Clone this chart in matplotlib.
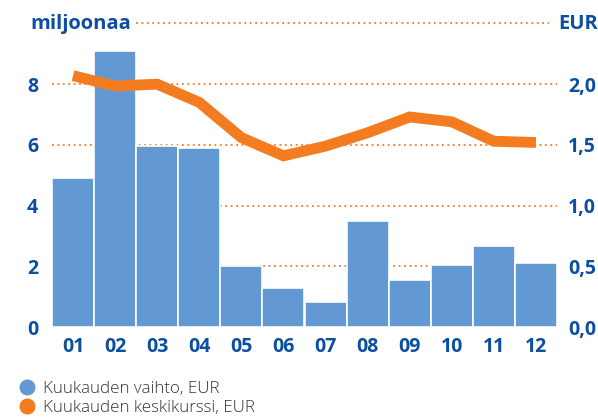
import matplotlib
matplotlib.use("Agg")
import matplotlib.pyplot as plt
from matplotlib.lines import Line2D

months = ["01", "02", "03", "04", "05", "06", "07", "08", "09", "10", "11", "12"]
volume = [4.9, 9.1, 5.95, 5.9, 2.0, 1.28, 0.82, 3.5, 1.55, 2.04, 2.67, 2.1]
avg_price = [2.07, 1.985, 2.0, 1.85, 1.56, 1.41, 1.49, 1.6, 1.73, 1.69, 1.53, 1.52]
left_ticks = [0, 2, 4, 6, 8]
right_ticks = [0.0, 0.5, 1.0, 1.5, 2.0]
right_labels = ["0,0", "0,5", "1,0", "1,5", "2,0"]

BLUE_TXT = "#0B4EA2"
BAR = "#6399D2"
ORANGE = "#F47C20"
FONT = "Open Sans"

fig = plt.figure(figsize=(5.98, 4.19), dpi=100)
ax = fig.add_axes([52/598, 1 - 327/419, 505/598, (327 - 23.5)/419])
ax.set_ylim(0, 10)
ax.set_xlim(-0.5, 11.5)

x = list(range(len(months)))
ax.bar(x, volume, width=1.0, color=BAR, edgecolor="white", linewidth=1.2, zorder=2)

for t in left_ticks:
    ax.axhline(t, color=ORANGE, linestyle=(0, (1, 2)), linewidth=1.3, zorder=1)
ax.axhline(10, xmin=(136 - 52)/505, xmax=(549 - 52)/505, color=ORANGE,
           linestyle=(0, (1, 2)), linewidth=1.3, zorder=1, clip_on=False)

ax.set_yticks(left_ticks)
ax.set_yticklabels([str(t) for t in left_ticks], fontsize=14, fontweight="bold",
                   color=BLUE_TXT, family=FONT)
ax.set_xticks(x)
ax.set_xticklabels(months, fontsize=14, fontweight="bold", color=BLUE_TXT, family=FONT)
ax.tick_params(axis="both", length=0)
ax.tick_params(axis="y", pad=10)
ax.tick_params(axis="x", pad=7)
for s in ax.spines.values():
    s.set_visible(False)

ax2 = ax.twinx()
ax2.set_ylim(0, 2.5)
ax2.plot(x, avg_price, color=ORANGE, linewidth=7.8, solid_joinstyle="miter",
         solid_capstyle="butt", zorder=3)
ax2.set_yticks(right_ticks)
ax2.set_yticklabels(right_labels, fontsize=14, fontweight="bold", color=BLUE_TXT, family=FONT)
ax2.tick_params(axis="y", length=0, pad=8)
for s in ax2.spines.values():
    s.set_visible(False)

fig.text(30/598, 1 - 24/419, "miljoonaa", fontsize=14.5, fontweight="bold",
         color=BLUE_TXT, family=FONT, va="center", ha="left")
fig.text(598/598, 1 - 24/419, "EUR", fontsize=14.5, fontweight="bold",
         color=BLUE_TXT, family=FONT, va="center", ha="right")

handles = [
    Line2D([], [], marker="o", linestyle="none", markersize=10.5, color=BAR),
    Line2D([], [], marker="o", linestyle="none", markersize=10.5, color=ORANGE),
]
fig.legend(handles, ["Kuukauden vaihto, EUR", "Kuukauden keskikurssi, EUR"],
           loc="upper left", bbox_to_anchor=(10/598, 1 - 374/419), frameon=False,
           prop={"family": FONT, "size": 12.2, "weight": "light"},
           labelcolor="#333333", handletextpad=0.35, labelspacing=0.2,
           borderaxespad=0, handlelength=1.2)

fig.savefig("out.png", dpi=100)
